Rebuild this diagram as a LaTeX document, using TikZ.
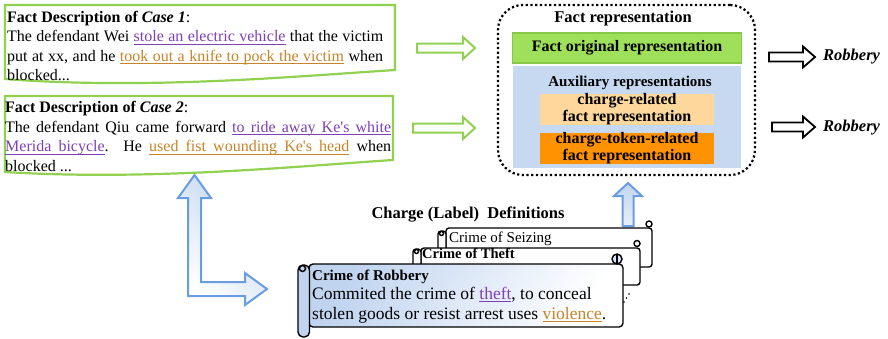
\documentclass[tikz,border=0pt]{standalone}
\usepackage{fontspec}
\setmainfont{Liberation Serif}
\newcommand\fsz[2]{\fontsize{#1}{#2}\selectfont}
\newcommand\uw[1]{\setbox0\hbox{#1}\rlap{\rule[-2.6pt]{\wd0}{0.8pt}}\box0}
\newcommand\usp{\leaders\hrule height -1.8pt depth 2.6pt\hskip\fontdimen2\font plus\fontdimen3\font minus\fontdimen4\font\relax}
\makeatletter
\def\uphr#1{\uphr@#1 \@nil}
\def\uphr@#1 #2\@nil{\uw{#1}\ifx\relax#2\relax\else\usp\uphr@#2\@nil\fi}
\makeatother
\definecolor{cgreen}{HTML}{92D050}
\definecolor{cgreenfill}{HTML}{9FE05A}
\definecolor{cgreenedge}{HTML}{86C94A}
\definecolor{cblue}{HTML}{C6D9F1}
\definecolor{cpeach}{HTML}{FDD79C}
\definecolor{corangebox}{HTML}{FF9200}
\definecolor{cpurple}{HTML}{7E40B8}
\definecolor{corange}{HTML}{C8842A}
\definecolor{sblue}{HTML}{C0D4F0}
\definecolor{ablue}{HTML}{6A9CE2}
\begin{document}
\begin{tikzpicture}[x=1pt,y=1pt,
  casebox/.style={draw=cgreen, line width=2.2pt, fill=white},
  casetext/.style={anchor=north west, inner sep=0pt, align=justify, font=\fsz{16}{19.5},
    execute at begin node={\tolerance=10000\hyphenpenalty=10000}},
  hollowg/.style={draw=cgreen, line width=2pt, fill=white},
  hollowk/.style={draw=black, line width=1.8pt, fill=white},
  bluearrow/.style={draw=ablue, line width=2pt, line join=miter},
  repbox/.style={inner sep=0pt, font=\bfseries\fsz{16}{17}, align=center},
  scrollline/.style={draw=black, line width=1.4pt},
  robbery/.style={anchor=west, inner sep=0pt, font=\bfseries\itshape\fsz{16.5}{18}},
  stext/.style={anchor=base west, inner sep=0pt}
]
\useasboundingbox (0,0) rectangle (888,-338);

% ---------- case boxes ----------
\path[casebox] (5,-5) -- (395,-5) -- (395,-70) .. controls (300,-76) and (150,-90) .. (5,-79) -- cycle;
\node[casetext, text width=376pt] (case1) at (7,-11) {%
{\bfseries Fact Description of \textit{Case 1}}:\\
The defendant Wei \textcolor{cpurple}{\uphr{stole an electric vehicle}} that the victim\linebreak
put at xx, and he \textcolor{corange}{\uphr{took out a knife to pock the victim}} when\linebreak
blocked...};

\path[casebox] (5,-96) -- (393,-96) -- (393,-160) .. controls (300,-166) and (150,-181) .. (5,-172) -- cycle;
\node[casetext, text width=386pt] (case2) at (5,-101.5) {%
{\bfseries Fact Description of \textit{Case 2}}:\\
The defendant Qiu came forward \textcolor{cpurple}{\uphr{to ride away Ke\textquotesingle s white}}\linebreak
\textcolor{cpurple}{\uphr{Merida bicycle}}. He \textcolor{corange}{\uphr{used fist wounding Ke\textquotesingle s head}} when\linebreak
blocked ...};

% ---------- green hollow arrows ----------
\path[hollowg] (417,-43.5) -- (463,-43.5) -- (463,-37) -- (475,-48) -- (463,-59) -- (463,-52.5) -- (417,-52.5) -- cycle;
\path[hollowg] (413,-123.5) -- (463,-123.5) -- (463,-117) -- (475,-128) -- (463,-139) -- (463,-132.5) -- (413,-132.5) -- cycle;

% ---------- fact representation ----------
\node[draw=black, line width=2.2pt, dash pattern=on 2.2pt off 2.5pt, rounded corners=25pt,
      minimum width=257pt, minimum height=170pt, inner sep=0pt] (frep) at (626.5,-90) {};
\node[repbox, font=\bfseries\fsz{16.5}{18}] (frept) at (623,-18.5) {Fact representation};
\node[repbox, fill=cgreenfill, draw=cgreenedge, line width=1.5pt, minimum width=229pt, minimum height=30pt] (forig) at (627,-48) {Fact original representation};
\node[repbox, fill=cblue, minimum width=228pt, minimum height=102pt] (aux) at (627,-117) {};
\node[repbox, font=\bfseries\fsz{15}{17}] (auxt) at (630,-83) {Auxiliary representations};
\node[repbox, fill=cpeach, minimum width=174pt, minimum height=31pt] (crel) at (627,-109.5) {charge-related\\fact representation};
\node[repbox, fill=corangebox, minimum width=174pt, minimum height=31pt] (ctok) at (627,-148.5) {charge-token-related\\fact representation};

% ---------- output arrows ----------
\path[hollowk] (769,-52.5) -- (803,-52.5) -- (803,-46.5) -- (815,-57) -- (803,-67.5) -- (803,-61.5) -- (769,-61.5) -- cycle;
\path[hollowk] (772,-122.5) -- (803,-122.5) -- (803,-116.5) -- (815,-127) -- (803,-137.5) -- (803,-131.5) -- (772,-131.5) -- cycle;
\node[robbery] (rob1) at (823,-57) {Robbery};
\node[robbery] (rob2) at (823,-128) {Robbery};

% ---------- blue arrows ----------
\path[bluearrow, top color=sblue, bottom color=white, shading angle=-45]
  (194.5,-175) -- (211,-198) -- (201,-198) -- (201,-282) -- (245,-282) -- (245,-273) -- (267,-289)
  -- (245,-305) -- (245,-296) -- (188,-296) -- (188,-198) -- (178,-198) -- cycle;
\path[bluearrow, top color=sblue, bottom color=sblue!35]
  (628,-183) -- (642,-196) -- (633.5,-196) -- (633.5,-226) -- (622.5,-226) -- (622.5,-196) -- (614,-196) -- cycle;

% ---------- charge definitions ----------
\node[inner sep=0pt, font=\bfseries\fsz{16.5}{18}] (cdef) at (468,-215) {Charge (Label)\ \ Definitions};

% back scroll
\path[scrollline, fill=white, rounded corners=3pt] (446,-228) -- (652,-228) -- (652,-267) -- (446,-267) -- cycle;
\path[scrollline, fill=white] (649,-224) circle (3);
\path[scrollline, fill=white, rounded corners=3pt] (438,-231) rectangle (446,-275);
\path[scrollline, fill=white] (441.5,-233.5) circle (2);
\node[stext, font=\fsz{15}{18}] (seiz) at (449,-242) {Crime of Seizing};

% middle scroll
\path[scrollline, fill=white, rounded corners=3pt] (421,-248) -- (640,-248) -- (640,-285) -- (421,-285) -- cycle;
\path[scrollline, fill=white] (637,-243.5) circle (3);
\path[scrollline, fill=white, rounded corners=3pt] (413,-249) rectangle (421,-292);
\path[scrollline, fill=white] (416.5,-251.5) circle (2);
\node[stext, font=\bfseries\fsz{14.5}{17}] (theft) at (422,-258.5) {Crime of Theft};

% front scroll
\path[scrollline, rounded corners=4pt, top color=sblue, bottom color=white, shading angle=60]
  (309,-264) -- (623,-264) -- (623,-327) -- (309,-327) -- cycle;
\path[scrollline, fill=sblue, rounded corners=5pt] (298,-265) rectangle (309.5,-337);
\path[scrollline, fill=sblue] (302.5,-268.5) circle (3);
\path[scrollline, fill=sblue!60!white] (617,-259) circle (5);
\draw[line width=1.2pt] (617,-254) -- (617,-264);
\node[stext, font=\bfseries\fsz{15}{18}] (robt) at (312,-280) {Crime of Robbery};
\node[stext, font=\fsz{17.5}{20}] (robl1) at (312,-299) {Commited the crime of \textcolor{cpurple}{\uphr{theft}}, to conceal};
\node[stext, font=\fsz{17.5}{20}] (robl2) at (312,-319) {stolen goods or resist arrest uses \textcolor{corange}{\uphr{violence}}.};
\fill (624,-302) circle (0.8) (626.5,-298) circle (0.8) (629,-294) circle (0.8);
\end{tikzpicture}
\end{document}
